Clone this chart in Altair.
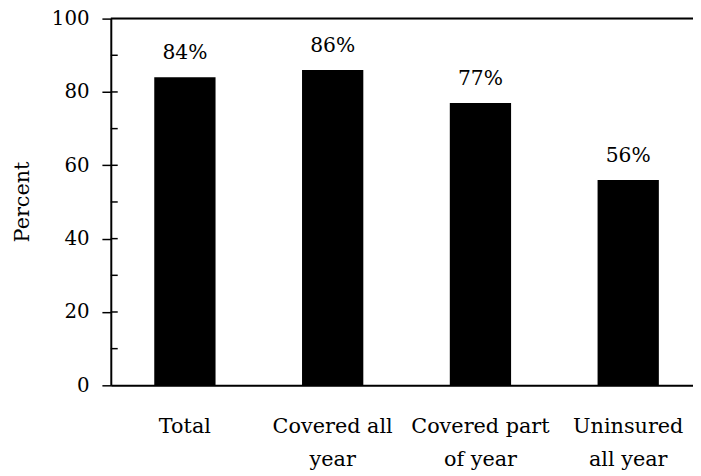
import altair as alt
import pandas as pd

categories = ["Total", "Covered all|year", "Covered part|of year", "Uninsured|all year"]
values = [84, 86, 77, 56]
y_tick_values = [0, 20, 40, 60, 80, 100]
inner_tick_values = [10, 20, 30, 40, 50, 60, 70, 80, 90]

FONT = "DejaVu Serif"

df = pd.DataFrame({"cat": categories, "value": values})
df_ticks = pd.DataFrame({"v": inner_tick_values})

x_scale = alt.Scale(paddingInner=0.5853, paddingOuter=0.2626, align=0.56)
y_scale = alt.Scale(domain=[0, 100], nice=False, zero=True)

x_enc = alt.X(
    "cat:N",
    sort=categories,
    scale=x_scale,
    axis=alt.Axis(
        title=None,
        labelAngle=0,
        ticks=False,
        domainColor="black",
        domainWidth=2,
        labelFont=FONT,
        labelFontSize=21,
        labelColor="black",
        labelPadding=31,
        labelLineHeight=33,
        labelExpr="split(datum.label, '|')",
    ),
)

y_enc = alt.Y(
    "value:Q",
    scale=y_scale,
    axis=alt.Axis(
        values=y_tick_values,
        title="Percent",
        titleFont=FONT,
        titleFontSize=21,
        titleFontWeight="normal",
        titleColor="black",
        titleAngle=-90,
        titleX=-89,
        titleY=185,
        titleAlign="center",
        titleBaseline="middle",
        grid=False,
        tickSize=9,
        tickWidth=1.5,
        tickColor="black",
        domainColor="black",
        domainWidth=2,
        labelFont=FONT,
        labelFontSize=20,
        labelColor="black",
        labelPadding=13,
    ),
)

bars = alt.Chart(df).mark_bar(color="black").encode(x=x_enc, y=y_enc)

text = (
    alt.Chart(df)
    .transform_calculate(label="datum.value + '%'")
    .mark_text(font=FONT, fontSize=20.5, color="black", baseline="alphabetic", dy=-18.5)
    .encode(
        x=alt.X("cat:N", sort=categories, scale=x_scale),
        y=alt.Y("value:Q", scale=y_scale),
        text="label:N",
    )
)

inner_ticks = (
    alt.Chart(df_ticks)
    .mark_rule(color="black", strokeWidth=1.5)
    .encode(y=alt.Y("v:Q", scale=y_scale), x=alt.value(0), x2=alt.value(7))
)

top_line = (
    alt.Chart(pd.DataFrame({"v": [100]}))
    .mark_rule(color="black", strokeWidth=2)
    .encode(y=alt.Y("v:Q", scale=y_scale))
)

chart = (
    alt.layer(bars, text, inner_ticks, top_line)
    .properties(
        width=589,
        height=371,
        autosize="none",
        padding={"left": 104, "top": 8, "right": 0, "bottom": 89},
    )
    .configure_view(stroke=None)
    .configure(background="white")
)

chart.save("out.html", embed_options={"renderer": "svg", "actions": False})
